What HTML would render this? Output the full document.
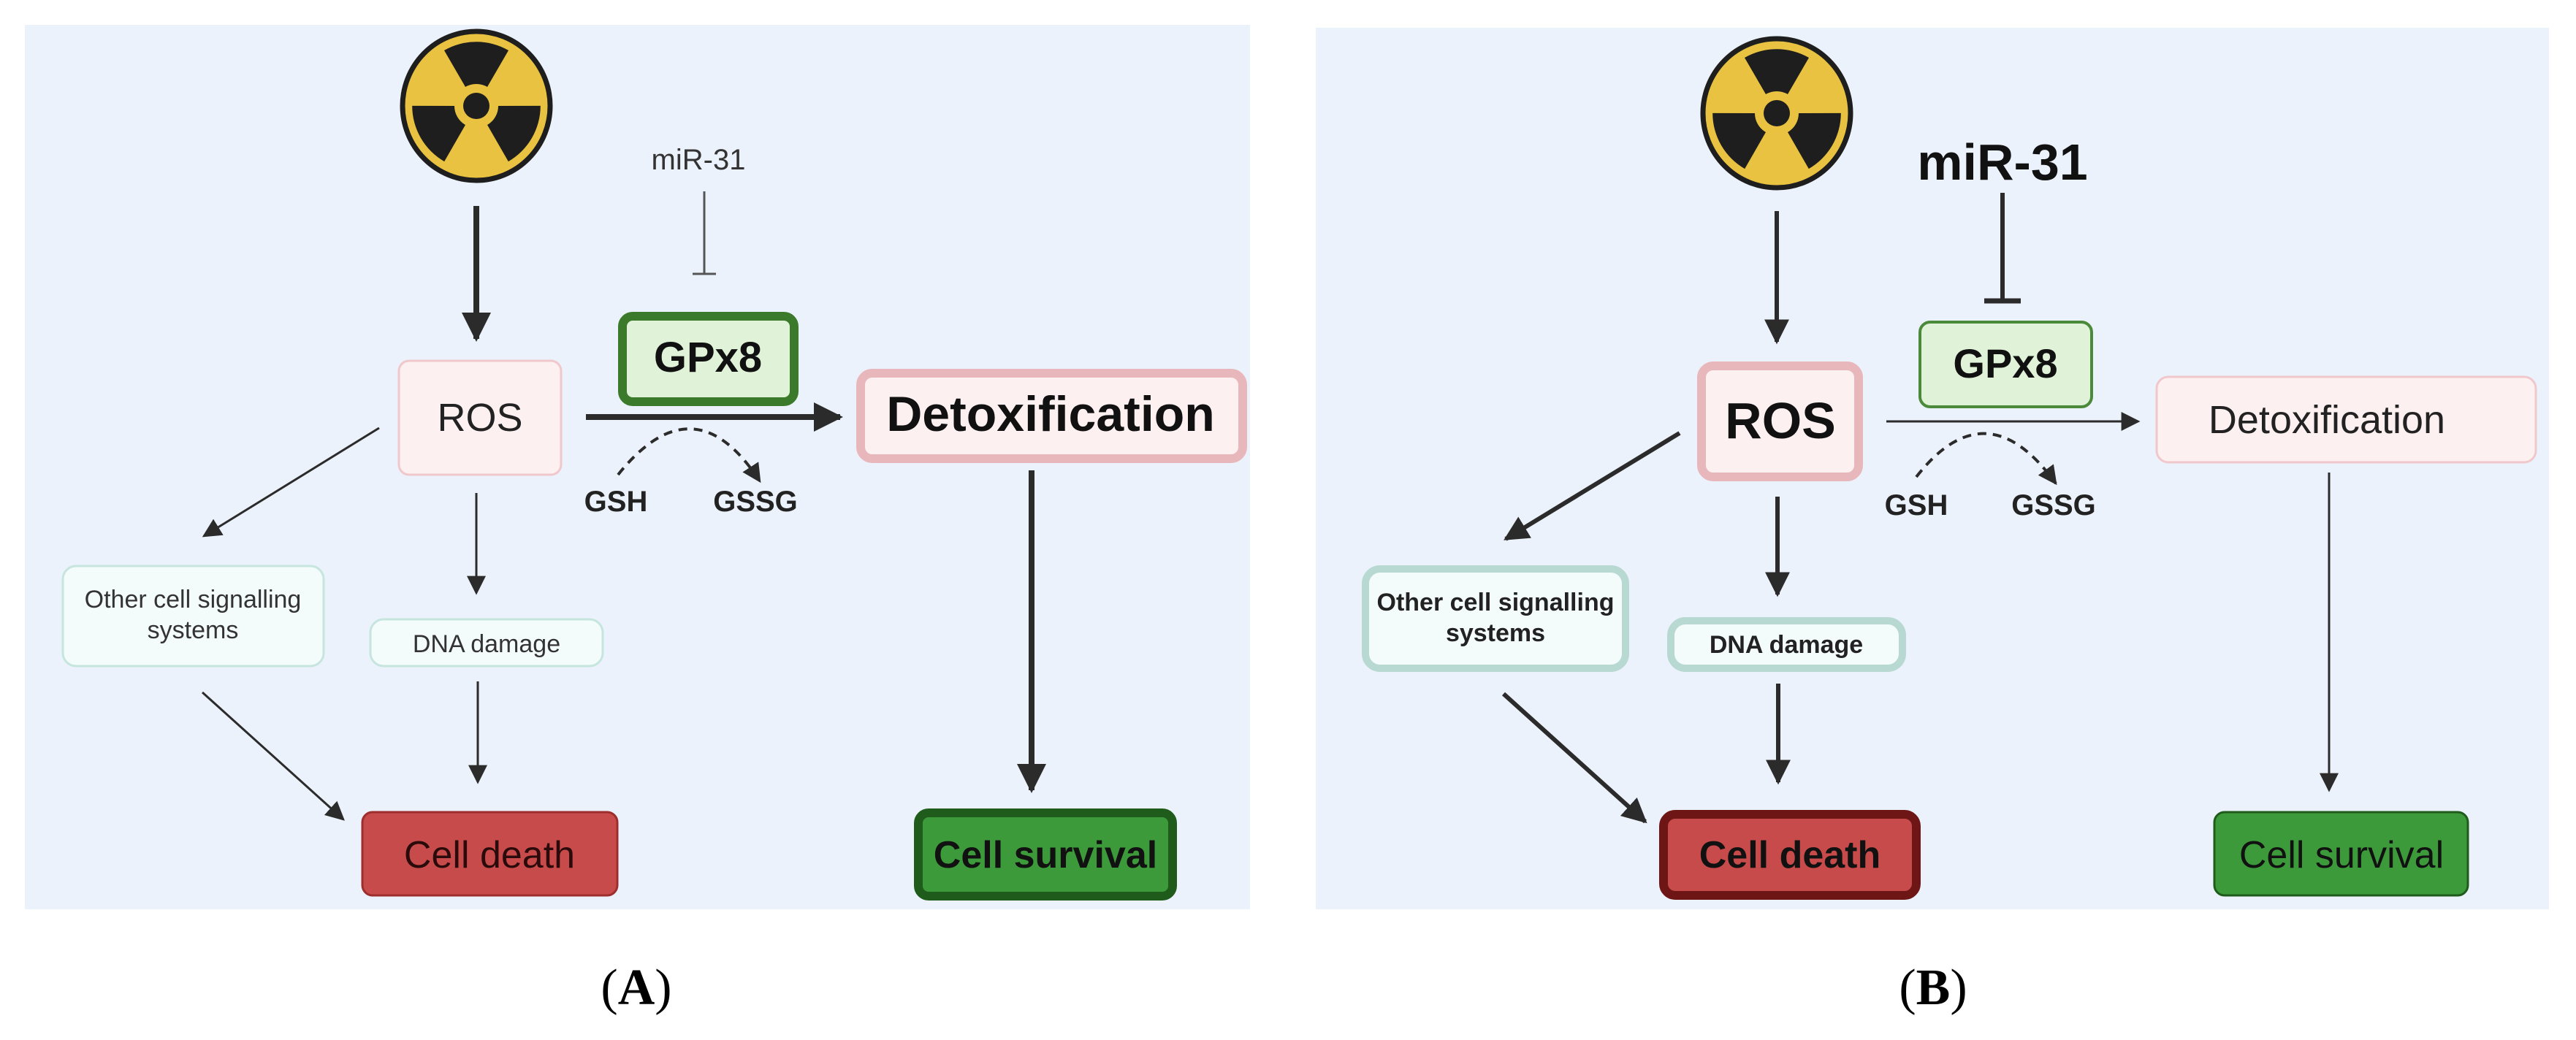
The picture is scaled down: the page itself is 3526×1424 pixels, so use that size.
<!DOCTYPE html>
<html><head><meta charset="utf-8"><style>
html,body{margin:0;padding:0;background:#fff}
svg{display:block}
text{font-family:"Liberation Sans",sans-serif}
</style></head><body>
<svg width="3526" height="1424" viewBox="0 0 3526 1424" xmlns="http://www.w3.org/2000/svg">
<defs>
<marker id="ah" markerUnits="userSpaceOnUse" viewBox="0 0 10 10" refX="9" refY="5" markerWidth="40" markerHeight="40" orient="auto"><path d="M0,0 L10,5 L0,10 Z" fill="#2b2b2b"/></marker>
<marker id="as" markerUnits="userSpaceOnUse" viewBox="0 0 10 10" refX="9" refY="5" markerWidth="26" markerHeight="26" orient="auto"><path d="M0,0 L10,5 L0,10 Z" fill="#2b2b2b"/></marker>
<marker id="am" markerUnits="userSpaceOnUse" viewBox="0 0 10 10" refX="9" refY="5" markerWidth="34" markerHeight="34" orient="auto"><path d="M0,0 L10,5 L0,10 Z" fill="#2b2b2b"/></marker>
<g id="rad">
<ellipse cx="0" cy="0" rx="101" ry="102" fill="#e8c240" stroke="#1e1e1e" stroke-width="7"/>
<path id="bl" d="M-15,-26 L-44,-76 A88,88 0 0 1 44,-76 L15,-26 A30,30 0 0 0 -15,-26Z" fill="#1e1e1e"/>
<path d="M-15,-26 L-44,-76 A88,88 0 0 1 44,-76 L15,-26 A30,30 0 0 0 -15,-26Z" fill="#1e1e1e" transform="rotate(120)"/>
<path d="M-15,-26 L-44,-76 A88,88 0 0 1 44,-76 L15,-26 A30,30 0 0 0 -15,-26Z" fill="#1e1e1e" transform="rotate(240)"/>
<circle r="18" fill="#1e1e1e"/>
</g>
</defs>

<!-- Panel A -->
<rect x="34" y="34" width="1677" height="1211" fill="#ecf2fb"/>
<use href="#rad" x="652" y="145"/>
<line x1="652" y1="282" x2="652" y2="464" stroke="#2b2b2b" stroke-width="8" marker-end="url(#ah)"/>
<rect x="546" y="494" width="222" height="156" rx="14" fill="#fdf0f1" stroke="#f0c8cc" stroke-width="3"/>
<text x="657" y="590" font-size="54" text-anchor="middle" fill="#222">ROS</text>
<text x="956" y="232" font-size="40" text-anchor="middle" fill="#333">miR-31</text>
<line x1="964" y1="262" x2="964" y2="375" stroke="#555" stroke-width="3"/>
<line x1="948" y1="375" x2="980" y2="375" stroke="#555" stroke-width="3"/>
<rect x="852" y="433" width="235" height="117" rx="14" fill="#e0f3d9" stroke="#3b7a2a" stroke-width="12"/>
<text x="969" y="509" font-size="58" font-weight="bold" text-anchor="middle" fill="#111">GPx8</text>
<line x1="802" y1="571" x2="1150" y2="571" stroke="#2b2b2b" stroke-width="8" marker-end="url(#ah)"/>
<path d="M846,650 Q950,520 1040,659" fill="none" stroke="#2b2b2b" stroke-width="4" stroke-dasharray="12,9" marker-end="url(#as)"/>
<text x="843" y="700" font-size="40" font-weight="bold" text-anchor="middle" fill="#222">GSH</text>
<text x="1034" y="700" font-size="40" font-weight="bold" text-anchor="middle" fill="#222">GSSG</text>
<rect x="1178" y="511" width="523" height="117" rx="16" fill="#fdf0f1" stroke="#e8b7bb" stroke-width="12"/>
<text x="1438" y="590" font-size="68" font-weight="bold" text-anchor="middle" fill="#111">Detoxification</text>
<line x1="1412" y1="644" x2="1412" y2="1082" stroke="#2b2b2b" stroke-width="8" marker-end="url(#ah)"/>
<rect x="1257" y="1113" width="348" height="114" rx="14" fill="#3d9a3a" stroke="#1f5c1c" stroke-width="12"/>
<text x="1431" y="1188" font-size="52" font-weight="bold" text-anchor="middle" fill="#111">Cell survival</text>
<line x1="519" y1="586" x2="279" y2="734" stroke="#2b2b2b" stroke-width="3" marker-end="url(#as)"/>
<rect x="86" y="775" width="357" height="137" rx="18" fill="#f4fcfb" stroke="#c5e5de" stroke-width="3"/>
<text x="264" y="832" font-size="34" text-anchor="middle" fill="#333">Other cell signalling</text>
<text x="264" y="874" font-size="34" text-anchor="middle" fill="#333">systems</text>
<line x1="652" y1="675" x2="652" y2="812" stroke="#2b2b2b" stroke-width="3" marker-end="url(#as)"/>
<rect x="507" y="848" width="318" height="64" rx="18" fill="#f4fcfb" stroke="#c5e5de" stroke-width="3"/>
<text x="666" y="893" font-size="34" text-anchor="middle" fill="#333">DNA damage</text>
<line x1="277" y1="948" x2="470" y2="1122" stroke="#2b2b2b" stroke-width="3" marker-end="url(#as)"/>
<line x1="654" y1="933" x2="654" y2="1071" stroke="#2b2b2b" stroke-width="3" marker-end="url(#as)"/>
<rect x="496" y="1112" width="349" height="114" rx="14" fill="#c84b4b" stroke="#9e2e2e" stroke-width="3"/>
<text x="670" y="1188" font-size="52" text-anchor="middle" fill="#2a0a0a">Cell death</text>
<text x="871" y="1375" font-size="70" text-anchor="middle" fill="#000" font-family="Liberation Serif, serif" style="font-family:'Liberation Serif',serif">(<tspan font-weight="bold">A</tspan>)</text>

<!-- Panel B -->
<rect x="1801" y="38" width="1688" height="1207" fill="#ecf2fb"/>
<use href="#rad" x="2432" y="155"/>
<line x1="2432" y1="289" x2="2432" y2="468" stroke="#2b2b2b" stroke-width="6" marker-end="url(#am)"/>
<text x="2741" y="246" font-size="70" font-weight="bold" text-anchor="middle" fill="#111">miR-31</text>
<line x1="2741" y1="264" x2="2741" y2="414" stroke="#2b2b2b" stroke-width="6"/>
<line x1="2716" y1="412" x2="2766" y2="412" stroke="#2b2b2b" stroke-width="7"/>
<rect x="2628" y="441" width="235" height="116" rx="14" fill="#e0f3d9" stroke="#4a8a3a" stroke-width="4"/>
<text x="2745" y="517" font-size="56" font-weight="bold" text-anchor="middle" fill="#111">GPx8</text>
<rect x="2329" y="501" width="215" height="152" rx="16" fill="#fdf0f1" stroke="#e8b7bb" stroke-width="12"/>
<text x="2437" y="600" font-size="70" font-weight="bold" text-anchor="middle" fill="#111">ROS</text>
<line x1="2582" y1="577" x2="2927" y2="577" stroke="#2b2b2b" stroke-width="3" marker-end="url(#as)"/>
<path d="M2623,653 Q2719,530 2814,662" fill="none" stroke="#2b2b2b" stroke-width="4" stroke-dasharray="12,9" marker-end="url(#as)"/>
<text x="2623" y="705" font-size="40" font-weight="bold" text-anchor="middle" fill="#222">GSH</text>
<text x="2811" y="705" font-size="40" font-weight="bold" text-anchor="middle" fill="#222">GSSG</text>
<rect x="2952" y="516" width="519" height="117" rx="16" fill="#fdf0f1" stroke="#f0c8cc" stroke-width="3"/>
<text x="3185" y="593" font-size="54" text-anchor="middle" fill="#222">Detoxification</text>
<line x1="3188" y1="647" x2="3188" y2="1082" stroke="#2b2b2b" stroke-width="3" marker-end="url(#as)"/>
<rect x="3031" y="1112" width="347" height="114" rx="14" fill="#3d9a3a" stroke="#1f5c1c" stroke-width="3"/>
<text x="3205" y="1188" font-size="52" text-anchor="middle" fill="#111">Cell survival</text>
<line x1="2299" y1="593" x2="2061" y2="738" stroke="#2b2b2b" stroke-width="6" marker-end="url(#am)"/>
<rect x="1869" y="779" width="356" height="136" rx="20" fill="#f4fcfb" stroke="#b7d9d2" stroke-width="10"/>
<text x="2047" y="836" font-size="34" font-weight="bold" text-anchor="middle" fill="#222">Other cell signalling</text>
<text x="2047" y="878" font-size="34" font-weight="bold" text-anchor="middle" fill="#222">systems</text>
<line x1="2433" y1="680" x2="2433" y2="814" stroke="#2b2b2b" stroke-width="6" marker-end="url(#am)"/>
<rect x="2287" y="850" width="317" height="65" rx="20" fill="#f4fcfb" stroke="#b7d9d2" stroke-width="10"/>
<text x="2445" y="894" font-size="34" font-weight="bold" text-anchor="middle" fill="#222">DNA damage</text>
<line x1="2058" y1="950" x2="2252" y2="1125" stroke="#2b2b2b" stroke-width="6" marker-end="url(#am)"/>
<line x1="2434" y1="936" x2="2434" y2="1071" stroke="#2b2b2b" stroke-width="6" marker-end="url(#am)"/>
<rect x="2277" y="1115" width="346" height="111" rx="16" fill="#c84b4b" stroke="#6e1515" stroke-width="12"/>
<text x="2450" y="1188" font-size="52" font-weight="bold" text-anchor="middle" fill="#111">Cell death</text>
<text x="2646" y="1375" font-size="70" text-anchor="middle" fill="#000" style="font-family:'Liberation Serif',serif">(<tspan font-weight="bold">B</tspan>)</text>
</svg>
</body></html>
